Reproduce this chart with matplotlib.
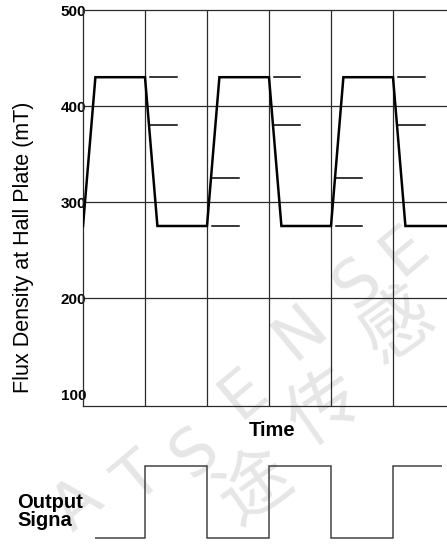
import matplotlib
matplotlib.use("Agg")
import matplotlib.pyplot as plt

# ---- data ----
t_flux = [0, 0.2, 1.0, 1.2, 2.0, 2.2, 3.0, 3.2, 4.0, 4.2, 5.0, 5.2, 6.0]
flux = [275, 430, 430, 275, 275, 430, 430, 275, 275, 430, 430, 275, 275]

dash_start = [1.08, 2.08, 3.08, 4.08, 5.08]
dash_end = [1.52, 2.52, 3.50, 4.50, 5.52]
dash_levels = [(430, 380), (325, 275), (430, 380), (325, 275), (430, 380)]

out_edges = [0.19, 1, 2, 3, 4, 5, 5.79]
out_state = [0, 1, 0, 1, 0, 1]

y_ticks = [100, 200, 300, 400, 500]
y_grid = [200, 300, 400]
x_grid = [1, 2, 3, 4, 5]

W, H = 447, 547
fig = plt.figure(figsize=(W / 100, H / 100), dpi=100)
fig.patch.set_facecolor("white")

# ---- watermark (behind) ----
wm_col = "#e6e6e6"
for ch, (x, y) in zip("ATSENSE", [(78, 505), (140, 480), (195, 452),
                                  (244, 393), (300, 332), (358, 283), (405, 250)]):
    fig.text(x / W, 1 - y / H, ch, fontsize=46, color=wm_col, rotation=40,
             ha="center", va="center", zorder=-1, family="DejaVu Sans")
for ch, (x, y) in zip("途传感", [(255, 488), (325, 408), (398, 326)]):
    fig.text(x / W, 1 - y / H, ch, fontsize=52, color=wm_col, rotation=35,
             ha="center", va="center", zorder=-1,
             family=["Noto Sans CJK SC", "DejaVu Sans"])

# ---- main axes ----
ax_left, ax_top, ax_bot, ax_w = 83, 10, 406, 372
ax = fig.add_axes([ax_left / W, 1 - ax_bot / H, ax_w / W, (ax_bot - ax_top) / H])
ax.set_facecolor("none")
ax.set_xlim(0, 6)
ax.set_ylim(87.5, 500)

gcol = "#2a2a2a"
for yv in y_grid:
    ax.axhline(yv, color=gcol, lw=0.9, zorder=1)
for xv in x_grid:
    ax.axvline(xv, color=gcol, lw=0.9, zorder=1)
for s in ["left", "top", "bottom"]:
    ax.spines[s].set_color(gcol)
    ax.spines[s].set_linewidth(0.9)
ax.spines["right"].set_visible(False)

ax.plot(t_flux, flux, color="black", lw=1.8, zorder=3, solid_joinstyle="miter")
for xs, xe, lv in zip(dash_start, dash_end, dash_levels):
    for l in lv:
        ax.plot([xs, xe], [l, l], color="black", lw=1.1, zorder=3)

ax.set_xticks([])
ax.set_yticks(y_ticks)
ax.set_yticklabels([str(v) for v in y_ticks], fontsize=11, fontweight="bold",
                   family="Liberation Sans")
ax.tick_params(axis="y", length=0, pad=-2.3)

fig.text(23.5 / W, 1 - 247 / H, "Flux Density at Hall Plate (mT)", rotation=90,
         ha="center", va="center", fontsize=15.5, family="Liberation Sans")
fig.text(272 / W, 1 - 430 / H, "Time", ha="center", va="center", fontsize=14.5,
         fontweight="bold", family="Liberation Sans")
fig.text(17 / W, 1 - 503 / H, "Output", ha="left", va="center", fontsize=14.5,
         fontweight="bold", family="Liberation Sans")
fig.text(17 / W, 1 - 521 / H, "Signa", ha="left", va="center", fontsize=14.5,
         fontweight="bold", family="Liberation Sans")

# ---- output signal axes ----
o_top, o_bot = 466, 538
ax2 = fig.add_axes([ax_left / W, 1 - o_bot / H, ax_w / W, (o_bot - o_top) / H])
ax2.set_facecolor("none")
ax2.set_xlim(0, 6)
ax2.set_ylim(0, 1)
ax2.axis("off")
ax2.stairs(out_state, out_edges, baseline=None, color="#444444", lw=1.1, clip_on=False)

fig.savefig("out.png", dpi=100, facecolor="white")
